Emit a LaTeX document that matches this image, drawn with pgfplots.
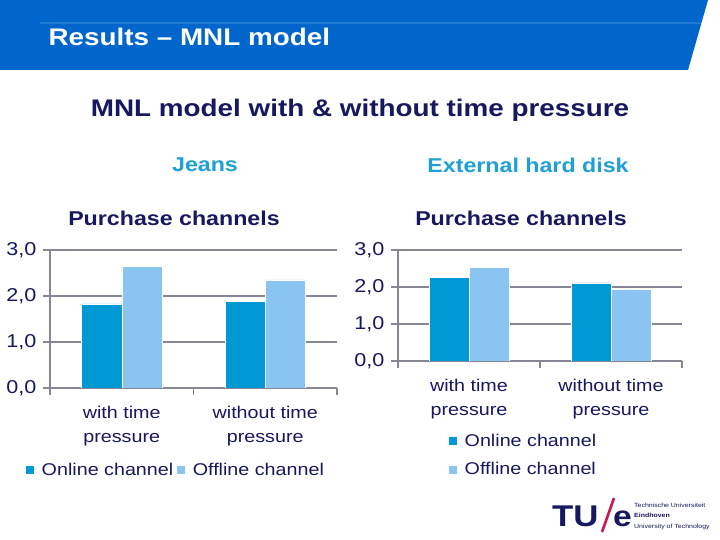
\documentclass[border=0pt]{standalone}
\usepackage{pgfplots}
\pgfplotsset{compat=1.18}
\usepackage{fontspec}
\setmainfont{Liberation Sans}[FakeStretch=1.16]

\definecolor{tublue}{RGB}{0,102,204}
\definecolor{stripe}{RGB}{30,122,212}
\definecolor{navy}{RGB}{24,24,96}
\definecolor{lblue}{RGB}{30,160,215}
\definecolor{online}{RGB}{0,153,212}
\definecolor{offline}{RGB}{137,197,240}
\definecolor{gridgray}{RGB}{134,134,148}
\definecolor{tured}{RGB}{200,25,80}

\newcommand{\fs}[1]{\fontsize{#1bp}{1.2\dimexpr#1bp\relax}\selectfont}

\pgfplotsset{
  chan/.style={
    scale only axis,
    anchor=south west,
    xmin=0, xmax=2, ymin=0, ymax=3,
    axis x line=bottom, axis y line=left,
    axis line style={-, draw=gridgray, line width=1.2bp},
    ytick={0,1,2,3},
    ymajorgrids,
    grid style={draw=gridgray, line width=1.2bp},
    xtick={0,1,2}, xticklabels={},
    tick align=outside,
    major tick length=7bp,
    tick style={draw=gridgray, line width=1.2bp},
    extra x ticks={0.5,1.5},
    extra x tick labels={{with time\\pressure},{without time\\pressure}},
    extra x tick style={major tick length=0pt, grid=none,
      xticklabel style={align=center, font=\fontsize{17bp}{24bp}\selectfont, text=navy, yshift=-15bp}},
    /pgf/number format/.cd, fixed, fixed zerofill, precision=1, use comma, assume math mode=true,
    /pgfplots/.cd,
    yticklabel style={font=\fs{18.6}, text=navy, xshift=-3bp},
    legend image code/.code={\fill[##1] (0bp,-4.5bp) rectangle (9bp,4.5bp);},
    legend cell align=left,
  },
  onl/.style={ybar, fill=online, draw=white, line width=0.5bp, bar width=0.28, bar shift=-0.14},
  off/.style={ybar, fill=offline, draw=white, line width=0.5bp, bar width=0.28, bar shift=0.14},
}

\begin{document}
\begin{tikzpicture}[x=1bp,y=1bp]
\useasboundingbox (0,0) rectangle (720,540);
\fill[white] (0,0) rectangle (720,540);

% header band
\fill[tublue] (0,540) -- (708,540) -- (688,470) -- (0,470) -- cycle;
\draw[stripe, line width=2bp] (40,517) -- (701,517);
\node[anchor=west, text=white, font=\fs{24}\bfseries] at (45,503) {Results – MNL model};

% titles
\node[text=navy, font=\fs{24}\bfseries] at (360,430) {MNL model with \& without time pressure};
\node[text=lblue, font=\fs{20}\bfseries] at (205,375) {Jeans};
\node[text=lblue, font=\fs{20}\bfseries] at (528,375) {External hard disk};
\node[text=navy, font=\fs{20}\bfseries] at (174,322) {Purchase channels};
\node[text=navy, font=\fs{20}\bfseries] at (521,322) {Purchase channels};

% Jeans
\begin{axis}[chan,
  at={(50bp,152bp)}, width=287bp, height=138bp,
  legend columns=2,
  legend style={draw=none, fill=none, inner sep=0pt,
    at={(axis description cs:-0.087,-0.594)}, anchor=west,
    font=\fontsize{17bp}{20bp}\selectfont, text=navy,
    nodes={inner sep=1bp},
    /tikz/every odd column/.append style={column sep=6bp},
    /tikz/every even column/.append style={column sep=2bp}},
]
\addplot[onl] coordinates {(0.5,1.83) (1.5,1.89)};
\addplot[off] coordinates {(0.5,2.64) (1.5,2.35)};
\legend{Online channel, Offline channel}
\end{axis}

% External hard disk
\begin{axis}[chan,
  at={(398bp,179bp)}, width=284bp, height=111bp,
  legend columns=1,
  legend style={draw=none, fill=none, inner sep=0pt,
    at={(axis description cs:0.176,-0.847)}, anchor=west,
    font=\fontsize{17bp}{20bp}\selectfont, text=navy,
    nodes={inner sep=1bp}, row sep=13bp,
    /tikz/every odd column/.append style={column sep=6bp}},
]
\addplot[onl] coordinates {(0.5,2.27) (1.5,2.11)};
\addplot[off] coordinates {(0.5,2.54) (1.5,1.94)};
\legend{Online channel, Offline channel}
\end{axis}

% TU/e logo
\node[anchor=west, text=navy, font=\fs{30}\bfseries, inner sep=0pt] at (552,24) {TU};
\draw[tured, line width=2.6bp] (602,8) -- (614,42);
\node[anchor=west, text=navy, font=\fs{29}\bfseries, inner sep=0pt] at (613,21) {e};
\node[anchor=west, text=navy, align=left, font=\fontsize{6bp}{10.5bp}\selectfont, inner sep=0pt] at (634,24)
  {Technische Universiteit\\\textbf{Eindhoven}\\University of Technology};
\end{tikzpicture}
\end{document}
